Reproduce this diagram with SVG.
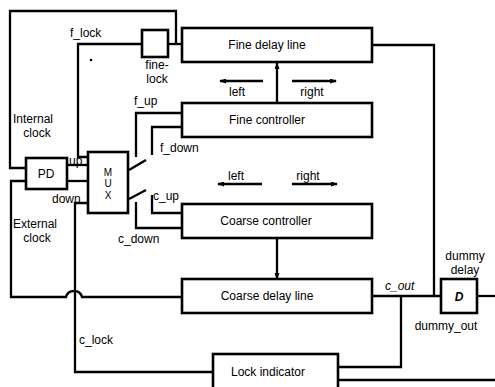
<svg xmlns="http://www.w3.org/2000/svg" width="495" height="387" viewBox="0 0 495 387">
<defs>
<marker id="ah" markerWidth="7" markerHeight="5" refX="6" refY="2.5" orient="auto" markerUnits="userSpaceOnUse"><path d="M0,0 L7,2.5 L0,5 z" fill="#000"/></marker>
<style>
.box{fill:#fff;stroke:#000;stroke-width:2.6}
.w{fill:none;stroke:#000;stroke-width:2.3}
text{font-family:"Liberation Sans",Arial,Helvetica,sans-serif;font-size:12px;fill:#000}
.c{text-anchor:middle}
.m{font-size:10px}
</style>
</defs>
<rect width="495" height="387" fill="#fff"/>
<g id="connectors">
<path class="w" d="M26,168 H10 V11 H176 V44"/>
<path class="w" d="M168,44 H182"/>
<path class="w" d="M142,44 H78 V157 H88"/>
<path class="w" d="M26,181 H11 V297 H66 C68,289 80,289 82,297 H182"/>
<path class="w" d="M67,165 H88"/>
<path class="w" d="M67,181 H88"/>
<path class="w" d="M88,203 H75 V372 H213"/>
<path class="w" d="M182,113 H136 V157"/>
<path class="w" d="M182,127 H152 V155"/>
<path class="w" d="M129,170 L146,160"/>
<path class="w" d="M129,199 L146,190"/>
<path class="w" d="M182,213 H152 V195"/>
<path class="w" d="M182,228 H136 V202"/>
<path class="w" d="M277,103 V63" marker-end="url(#ah)"/>
<path class="w" d="M277,238 V279" marker-end="url(#ah)"/>
<path class="w" d="M263,81 H220" marker-end="url(#ah)"/>
<path class="w" d="M292,81 H336" marker-end="url(#ah)"/>
<path class="w" d="M262,184 H218" marker-end="url(#ah)"/>
<path class="w" d="M292,184 H337" marker-end="url(#ah)"/>
<path class="w" d="M372,45 H434 V296"/>
<path class="w" d="M372,296 H441"/>
<path class="w" d="M401,296 V367 H338"/>
<path class="w" d="M477,296 H495"/>
<path class="w" d="M338,380 H495"/>
<circle cx="91" cy="60" r="1.3" fill="#000"/>
</g>
<g id="labels">
<text x="70" y="37">f_lock</text>
<text x="13" y="123">Internal</text>
<text x="37" y="137" class="c">clock</text>
<text x="13" y="228">External</text>
<text x="37" y="242" class="c">clock</text>
<text x="69" y="165">up</text>
<text x="52" y="203">down</text>
<text x="134" y="105">f_up</text>
<text x="160" y="152">f_down</text>
<text x="153" y="200">c_up</text>
<text x="118" y="243">c_down</text>
<text x="237" y="96" class="c">left</text>
<text x="312" y="96" class="c">right</text>
<text x="236" y="180" class="c">left</text>
<text x="308" y="180" class="c">right</text>
<text x="385" y="290" font-style="italic">c_out</text>
<text x="465" y="260" class="c">dummy</text>
<text x="465" y="274" class="c">delay</text>
<text x="446" y="330" class="c">dummy_out</text>
<text x="79" y="344">c_lock</text>
</g>
<g id="fine-lock">
<rect class="box" x="142" y="30" width="26" height="27"/>
<text x="157" y="69" class="c">fine-</text>
<text x="157" y="83" class="c">lock</text>
</g>
<g id="pd">
<rect class="box" x="26" y="158" width="41" height="31"/>
<text x="46" y="178" class="c">PD</text>
</g>
<g id="mux">
<rect class="box" x="88" y="152" width="40" height="61"/>
<text x="108" y="176" class="c m">M</text>
<text x="108" y="187" class="c m">U</text>
<text x="108" y="199" class="c m">X</text>
</g>
<g id="fine-delay-line">
<rect class="box" x="182" y="28" width="190" height="34"/>
<text x="267" y="49" class="c">Fine delay line</text>
</g>
<g id="fine-controller">
<rect class="box" x="182" y="103" width="190" height="34"/>
<text x="267" y="124" class="c">Fine controller</text>
</g>
<g id="coarse-controller">
<rect class="box" x="182" y="204" width="190" height="34"/>
<text x="266" y="225" class="c">Coarse controller</text>
</g>
<g id="coarse-delay-line">
<rect class="box" x="182" y="279" width="190" height="34"/>
<text x="267" y="300" class="c">Coarse delay line</text>
</g>
<g id="dummy-delay">
<rect class="box" x="441" y="279" width="36" height="34"/>
<text x="459" y="301" class="c" font-weight="bold" font-style="italic">D</text>
</g>
<g id="lock-indicator">
<rect class="box" x="213" y="354" width="125" height="40"/>
<text x="268" y="376" class="c">Lock indicator</text>
</g>
</svg>
